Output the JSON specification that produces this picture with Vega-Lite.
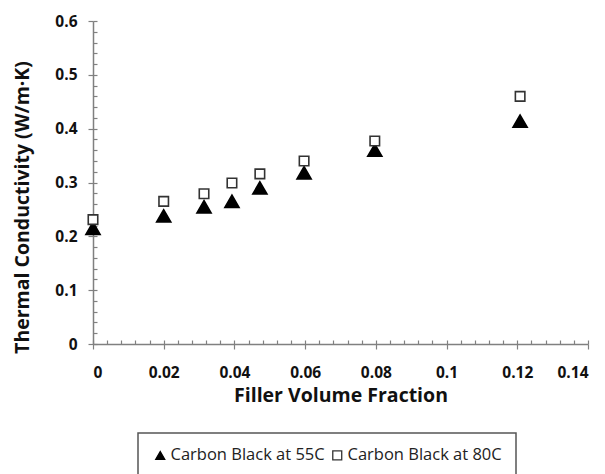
{
  "$schema": "https://vega.github.io/schema/vega-lite/v6.json",
  "width": 495,
  "height": 323,
  "autosize": {"type": "none"},
  "padding": {"left": 93, "top": 21, "right": 17, "bottom": 130},
  "background": "white",
  "config": {
    "view": {"stroke": null},
    "font": "Open Sans",
    "axis": {
      "domainColor": "#808080",
      "domainWidth": 1.5,
      "tickColor": "#808080",
      "tickWidth": 1.2,
      "grid": false,
      "labelFont": "Open Sans",
      "labelFontWeight": "bold",
      "labelFontSize": 15.5,
      "labelColor": "#111",
      "titleFont": "Open Sans",
      "titleFontWeight": "bold",
      "titleFontSize": 19.5,
      "titleColor": "#111"
    },
    "legend": {
      "orient": "none",
      "title": null,
      "strokeColor": "#555",
      "strokeWidth": 1.5,
      "padding": 14,
      "labelFont": "Open Sans",
      "labelFontSize": 16.5,
      "labelColor": "#222",
      "symbolSize": 80,
      "symbolStrokeWidth": 1.3,
      "columnPadding": 4,
      "labelOffset": 2,
      "labelLimit": 300
    }
  },
  "data": {
    "values": [
      {"f": 0.0, "k": 0.215, "series": "Carbon Black at 55C"},
      {"f": 0.02, "k": 0.238, "series": "Carbon Black at 55C"},
      {"f": 0.0314, "k": 0.255, "series": "Carbon Black at 55C"},
      {"f": 0.0393, "k": 0.265, "series": "Carbon Black at 55C"},
      {"f": 0.0472, "k": 0.290, "series": "Carbon Black at 55C"},
      {"f": 0.0597, "k": 0.318, "series": "Carbon Black at 55C"},
      {"f": 0.0797, "k": 0.360, "series": "Carbon Black at 55C"},
      {"f": 0.1208, "k": 0.414, "series": "Carbon Black at 55C"},
      {"f": 0.0, "k": 0.231, "series": "Carbon Black at 80C"},
      {"f": 0.02, "k": 0.265, "series": "Carbon Black at 80C"},
      {"f": 0.0314, "k": 0.279, "series": "Carbon Black at 80C"},
      {"f": 0.0393, "k": 0.299, "series": "Carbon Black at 80C"},
      {"f": 0.0472, "k": 0.316, "series": "Carbon Black at 80C"},
      {"f": 0.0597, "k": 0.340, "series": "Carbon Black at 80C"},
      {"f": 0.0797, "k": 0.377, "series": "Carbon Black at 80C"},
      {"f": 0.1208, "k": 0.460, "series": "Carbon Black at 80C"}
    ]
  },
  "layer": [
    {
      "mark": {"type": "point", "opacity": 0},
      "encoding": {
        "x": {"field": "f", "type": "quantitative", "scale": {"domain": [0, 0.14], "nice": false, "zero": false},
          "axis": {"orient": "bottom", "values": [0,0.004,0.008,0.012,0.016,0.02,0.024,0.028,0.032,0.036,0.04,0.044,0.048,0.052,0.056,0.06,0.064,0.068,0.072,0.076,0.08,0.084,0.088,0.092,0.096,0.1,0.104,0.108,0.112,0.116,0.12,0.124,0.128,0.132,0.136,0.14],
            "tickSize": -4, "labels": false, "domain": false, "title": null}},
        "y": {"field": "k", "type": "quantitative", "scale": {"domain": [0, 0.6], "nice": false, "zero": false},
          "axis": {"orient": "left", "values": [0,0.02,0.04,0.06,0.08,0.1,0.12,0.14,0.16,0.18,0.2,0.22,0.24,0.26,0.28,0.3,0.32,0.34,0.36,0.38,0.4,0.42,0.44,0.46,0.48,0.5,0.52,0.54,0.56,0.58,0.6],
            "tickSize": -4, "labels": false, "domain": false, "title": null}}
      }
    },
    {
      "transform": [{"filter": "datum.series === 'Carbon Black at 55C'"}],
      "mark": {"type": "point", "filled": true, "strokeWidth": 1.6, "opacity": 1, "size": 200},
      "encoding": {
        "x": {"field": "f", "type": "quantitative",
          "axis": {"orient": "bottom", "values": [0,0.02,0.04,0.06,0.08,0.1,0.12,0.14], "format": "~g", "tickSize": 5, "labelPadding": 16, "title": "Filler Volume Fraction", "titlePadding": 6}},
        "y": {"field": "k", "type": "quantitative",
          "axis": {"orient": "left", "values": [0,0.1,0.2,0.3,0.4,0.5,0.6], "format": "~g", "tickSize": 5, "labelPadding": 11, "title": "Thermal Conductivity (W/m·K)", "titleX": -71, "titleY": 186, "titleBaseline": "middle"}},
        "shape": {"field": "series", "type": "nominal", "scale": {"domain": ["Carbon Black at 55C", "Carbon Black at 80C"], "range": ["triangle-up", "square"]},
          "legend": {"legendX": 45, "legendY": 412, "direction": "horizontal", "columns": 2}},
        "fill": {"field": "series", "type": "nominal", "scale": {"domain": ["Carbon Black at 55C", "Carbon Black at 80C"], "range": ["#000000", "#ffffff"]}},
        "stroke": {"field": "series", "type": "nominal", "scale": {"domain": ["Carbon Black at 55C", "Carbon Black at 80C"], "range": ["#000000", "#333333"]}}
      }
    },
    {
      "transform": [{"filter": "datum.series === 'Carbon Black at 80C'"}],
      "mark": {"type": "point", "filled": true, "strokeWidth": 1.6, "opacity": 1, "size": 90},
      "encoding": {
        "x": {"field": "f", "type": "quantitative", "axis": null},
        "y": {"field": "k", "type": "quantitative", "axis": null},
        "shape": {"field": "series", "type": "nominal", "scale": {"domain": ["Carbon Black at 55C", "Carbon Black at 80C"], "range": ["triangle-up", "square"]}},
        "fill": {"field": "series", "type": "nominal", "scale": {"domain": ["Carbon Black at 55C", "Carbon Black at 80C"], "range": ["#000000", "#ffffff"]}},
        "stroke": {"field": "series", "type": "nominal", "scale": {"domain": ["Carbon Black at 55C", "Carbon Black at 80C"], "range": ["#000000", "#333333"]}}
      }
    }
  ],
  "resolve": {"axis": {"x": "independent", "y": "independent"}}
}
